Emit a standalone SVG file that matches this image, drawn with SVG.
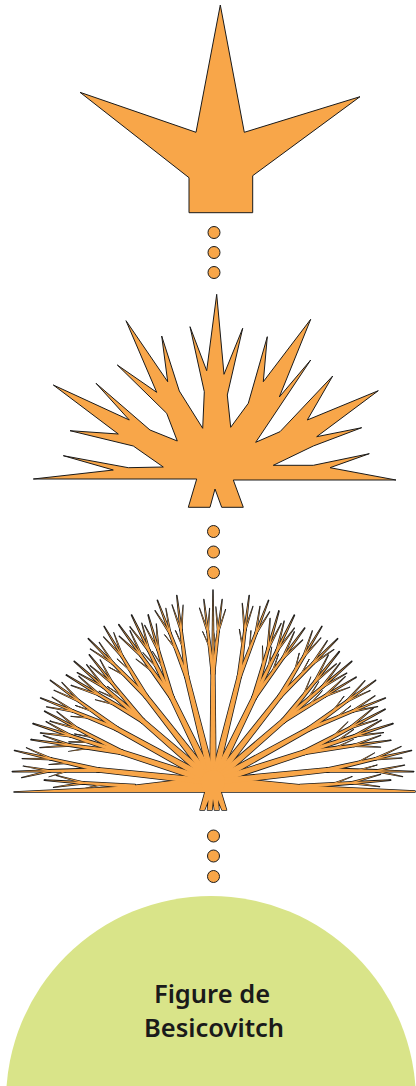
<svg xmlns="http://www.w3.org/2000/svg" xmlns:xlink="http://www.w3.org/1999/xlink" width="416" height="1086" viewBox="0 0 416 1086">
<style>
.shape{fill:#f8a649;stroke:#1a1a1a;stroke-width:1;stroke-linejoin:miter}
.dot{fill:#f8a649;stroke:#1a1a1a;stroke-width:1}
.ol{fill:#1a1a1a;stroke:#1a1a1a;stroke-width:1.5;stroke-linejoin:round}
.fl{fill:#f8a649;stroke:none}
.label{font-family:"Noto Sans","DejaVu Sans",sans-serif;font-size:25.5px;font-weight:600;fill:#1a1a1a;text-anchor:middle}
</style>
<defs>
<polygon id="sp" points="-0.8,0 0,-34 0.8,0"/>
<g id="tw">
<polygon points="-1.7,0 -0.9,-46 0.9,-46 1.7,0"/>
<use href="#sp" transform="translate(0,-45)"/>
<use href="#sp" transform="translate(0,-44) rotate(-12) scale(0.8)"/>
<use href="#sp" transform="translate(0,-44) rotate(11) scale(0.75)"/>
<use href="#sp" transform="translate(0,-28) rotate(-17) scale(0.55)"/>
</g>
<g id="br">
<polygon points="-3,0 -1.8,-106 1.8,-106 3,0"/>
<use href="#tw" transform="translate(0,-104) rotate(-7)"/>
<use href="#tw" transform="translate(0,-104) rotate(7)"/>
</g>
<g id="br2">
<polygon points="-3,0 -2,-92 2,-92 3,0"/>
<use href="#tw" transform="translate(0,-90) rotate(-10) scale(1.1)"/>
<use href="#tw" transform="translate(0,-90) scale(1.12)"/>
<use href="#tw" transform="translate(0,-90) rotate(10) scale(1.05)"/>
</g>
<g id="topbr">
<polygon points="-3,0 -1.8,-112 1.8,-112 3,0"/>
<polygon points="-1.2,-100 0,-192 1.2,-100"/>
<use href="#tw" transform="translate(0,-108) rotate(-7) scale(0.95)"/>
<use href="#tw" transform="translate(0,-108) rotate(7) scale(0.95)"/>
</g>
<g id="fan">
<polygon points="14,792 125,786.5 205,777 222,777 312,786 415,791 415,792"/>
<use href="#tw" transform="translate(135,786.5) rotate(-86) scale(1.15)"/>
<use href="#tw" transform="translate(300,786.5) rotate(86) scale(1.15)"/>
<use href="#br" transform="translate(213,782) rotate(-84) scale(1.1)"/>
<use href="#br2" transform="translate(213,782) rotate(-72) scale(1.06)"/>
<use href="#br" transform="translate(213,782) rotate(-61) scale(1.05)"/>
<use href="#br2" transform="translate(213,782) rotate(-49) scale(1.03)"/>
<use href="#br" transform="translate(213,782) rotate(-38) scale(1.04)"/>
<use href="#br2" transform="translate(213,782) rotate(-26) scale(1.04)"/>
<use href="#br" transform="translate(213,782) rotate(-14) scale(1.04)"/>
<use href="#topbr" transform="translate(213,782)"/>
<use href="#br" transform="translate(213,782) rotate(14) scale(1.04)"/>
<use href="#br2" transform="translate(213,782) rotate(26) scale(1.04)"/>
<use href="#br" transform="translate(213,782) rotate(38) scale(1.04)"/>
<use href="#br2" transform="translate(213,782) rotate(49) scale(1.03)"/>
<use href="#br" transform="translate(213,782) rotate(61) scale(1.05)"/>
<use href="#br2" transform="translate(213,782) rotate(72) scale(1.06)"/>
<use href="#br" transform="translate(213,782) rotate(84) scale(1.1)"/>
<circle cx="213" cy="782" r="12"/>
<polygon points="205,792 200,810 204.5,810 208.5,800 207.5,810 212,810 213,799 214.5,810 219,810 218,800 222,810 226.5,810 221,792"/>
</g>
</defs>

<g id="figure1">
<polygon class="shape" points="220.3,5 244.3,132.3 360,96.7 252.7,175.7 252.7,212.7 189,212.7 189,177.7 80,92.3 196,132.3"/>
</g>

<g id="figure2">
<polygon class="shape" points="33.3,479 113.3,470 63.3,455.7 128.3,467.7 163.3,467 133.3,446 70,430.7 118.3,434 53.3,385 129.3,420 96,383.3 150,430 177.3,441 166.7,413.3 117.3,365 156.7,392.3 126,320.7 167.7,381.7 161.7,336 179.3,391 202.7,428.3 204.3,391.7 190,326.7 206.7,370.7 216.7,294.3 224,374.3 242.7,328.3 227.3,395 230.7,427.3 248.3,403.3 267.3,336.7 263.3,381.7 310.7,319.3 279.3,397 310.7,360 255.7,442.3 280,431.7 332.7,376 307.3,420 378.3,390.7 316.7,436.7 361.7,427.7 313.3,446 273.3,465.3 313.3,465.3 369.3,453.7 330,467.7 396,480 233.3,480 243.3,507.3 221.7,507.3 215,489 210,507.3 188.3,507.3 196.7,479"/>
</g>

<g id="figure3">
<use href="#fan" class="ol"/>
<use href="#fan" class="fl"/>
</g>

<g id="connectors">
<circle class="dot" cx="214" cy="232.5" r="6"/>
<circle class="dot" cx="214" cy="252.5" r="6"/>
<circle class="dot" cx="214" cy="272.5" r="6"/>
<circle class="dot" cx="213.5" cy="531.5" r="6"/>
<circle class="dot" cx="213.5" cy="552" r="6"/>
<circle class="dot" cx="213.5" cy="572.5" r="6"/>
<circle class="dot" cx="213.5" cy="836" r="6"/>
<circle class="dot" cx="213.5" cy="856" r="6"/>
<circle class="dot" cx="213.5" cy="876.5" r="6"/>
</g>

<g id="besicovitch">
<circle cx="211" cy="1101" r="205" fill="#d9e489"/>
<text class="label" x="212" y="1003">Figure de</text>
<text class="label" x="214" y="1036.5">Besicovitch</text>
</g>
</svg>
